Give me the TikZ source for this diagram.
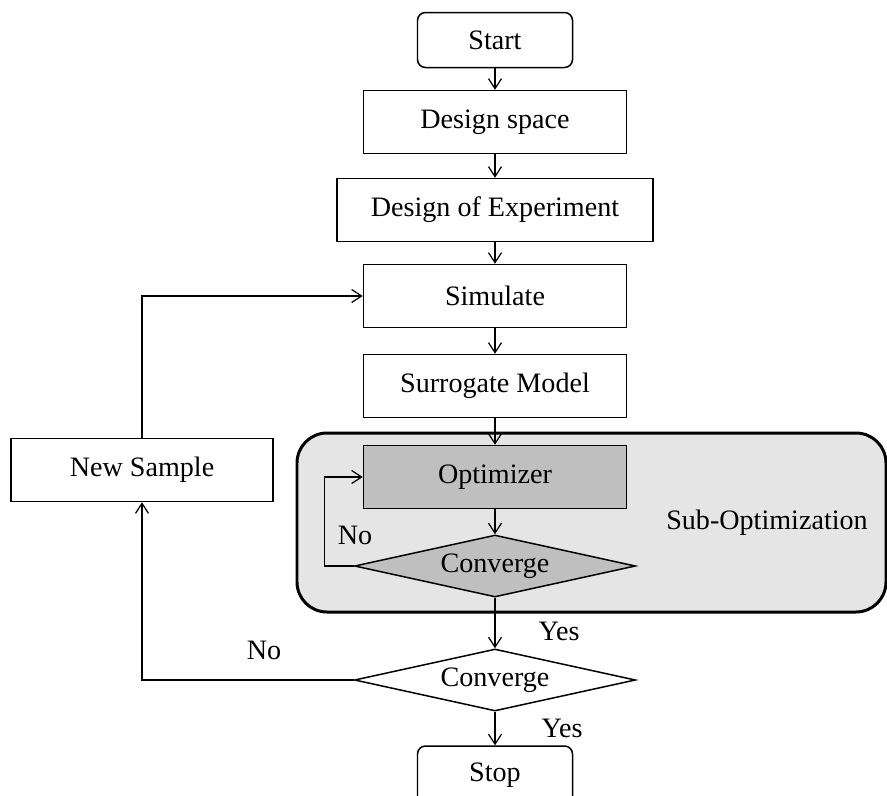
\documentclass[tikz,border=0pt]{standalone}
\usepackage{fontspec}
\setmainfont{Liberation Serif}
\usetikzlibrary{shapes.geometric,arrows.meta}

\begin{document}
\begin{tikzpicture}[x = 0.2mm, y = -0.2mm, > = {Straight Barb[length = 2mm, width = 2.6mm]},
	every node/.style = {font = \fontsize{16}{19}\selectfont},
	box/.style = {draw, line width = 0.85pt, inner sep = 0pt, minimum width = 52.6mm, minimum height = 12.6mm},
	term/.style = {box, rounded corners = 1.6mm, minimum width = 31mm, minimum height = 11mm},
	test/.style = {draw, line width = 0.85pt, diamond, shape aspect = 4.5, inner sep = 0pt, minimum width = 56.2mm, minimum height = 12.4mm},
	flow/.style = {->, line width = 0.7pt}]

	% Page size

	\useasboundingbox (0, 0) rectangle (887, 796);

	% Sub-optimization region

	\draw [line width = 1.7pt, fill = black!10, rounded corners = 6mm] (297, 433) rectangle (886, 612);
	\node (subopt) at (767, 523) {Sub-Optimization};

	% Main column

	\node [term] (start) at (495, 40) {Start};
	\node [box] (space) at (495, 122) {Design space};
	\node [box, minimum width = 63.2mm] (doe) at (495, 210) {Design of Experiment};
	\node [box] (sim) at (495, 296) {Simulate};
	\node [box] (surr) at (495, 386) {Surrogate Model};
	\node [box, fill = black!25] (opt) at (495, 477) {Optimizer};
	\node [test, fill = black!25] (inner) at (495, 566) {Converge};
	\node [test] (outer) at (495, 680) {Converge};
	\node [term, minimum height = 11.6mm] (stop) at (495, 775) {Stop};

	% Side box

	\node [box, minimum width = 52.4mm] (sample) at (142, 470) {New Sample};

	% Labels

	\node (no1) at (355, 535) {No};
	\node (no2) at (264, 650) {No};
	\node (yes1) at (559, 631) {Yes};
	\node (yes2) at (562, 728) {Yes};

	% Connectors

	\draw [flow] (start) -- (space);
	\draw [flow] (space) -- (doe);
	\draw [flow] (doe) -- (sim);
	\draw [flow] (sim) -- (surr);
	\draw [flow] (surr) -- (opt);
	\draw [flow] (opt) -- (inner);
	\draw [flow] (inner.west) -- ++(-29, 0) |- (opt.west);
	\draw [flow] (inner.south) -- (outer.north);
	\draw [flow] (outer.south) -- (stop.north);
	\draw [flow] (outer.west) -| (sample.south);
	\draw [flow] (sample.north) |- (sim.west);

\end{tikzpicture}
\end{document}
